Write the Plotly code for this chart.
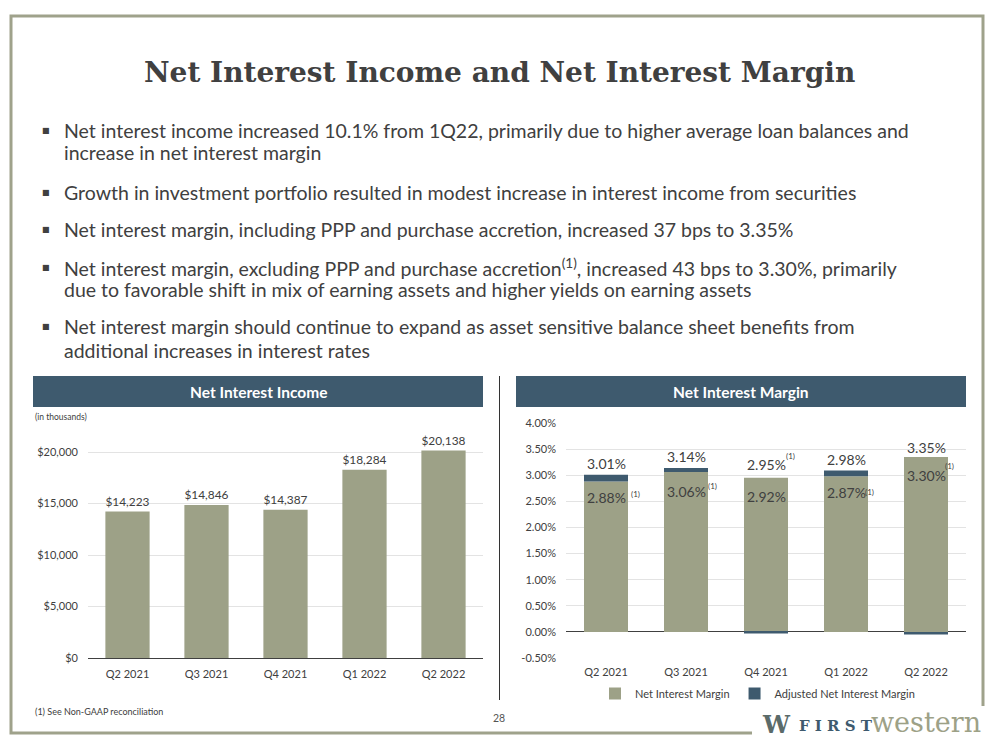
import plotly.graph_objects as go

# ---------------- data ----------------
quarters = ["Q2 2021", "Q3 2021", "Q4 2021", "Q1 2022", "Q2 2022"]
nii_values = [14223, 14846, 14387, 18284, 20138]          # $ thousands
nim_reported = [3.01, 3.14, 2.95, 2.98, 3.35]              # %
nim_adjusted = [2.88, 3.06, 2.92, 2.87, 3.30]              # % (non-GAAP)
nim_bar_base = [2.88, 3.06, 2.95, 2.98, 3.35]              # green segment as drawn
nim_bar_delta = [0.13, 0.08, -0.03, 0.11, -0.05]           # dark segment as drawn
nii_ticks = [0, 5000, 10000, 15000, 20000]
nim_ticks = [-0.5, 0, 0.5, 1.0, 1.5, 2.0, 2.5, 3.0, 3.5, 4.0]

bullets = [
    ["Net interest income increased 10.1% from 1Q22, primarily due to higher average loan balances and",
     "increase in net interest margin"],
    ["Growth in investment portfolio resulted in modest increase in interest income from securities"],
    ["Net interest margin, including PPP and purchase accretion, increased 37 bps to 3.35%"],
    ["Net interest margin, excluding PPP and purchase accretion<sup>(1)</sup>, increased 43 bps to 3.30%, primarily",
     "due to favorable shift in mix of earning assets and higher yields on earning assets"],
    ["Net interest margin should continue to expand as asset sensitive balance sheet benefits from",
     "additional increases in interest rates"],
]

# ---------------- style ----------------
W, H = 999, 750
GREEN = "#9DA187"
SLATE = "#3E5A6E"
TXT = "#404040"
BORDER = "#9FA28B"
FONT = "Lato, 'Open Sans', sans-serif"


def px(x):
    return x / W


def py(y):
    return 1 - y / H


fig = go.Figure()

# left chart: net interest income
fig.add_trace(go.Bar(
    x=quarters, y=nii_values, marker_color=GREEN, width=0.56,
    text=["$" + format(v, ",") for v in nii_values], textposition="outside",
    textfont=dict(size=13.5, color=TXT, family=FONT), cliponaxis=False,
    showlegend=False, xaxis="x", yaxis="y", hoverinfo="x+y",
))

# right chart: net interest margin
fig.add_trace(go.Bar(
    x=quarters, y=nim_bar_base, marker_color=GREEN, width=0.55,
    name="Net Interest Margin", xaxis="x2", yaxis="y2",
))
fig.add_trace(go.Bar(
    x=quarters, y=nim_bar_delta, marker_color=SLATE, width=0.55,
    name="Adjusted Net Interest Margin", xaxis="x2", yaxis="y2",
))

axis_common = dict(showline=False, zeroline=True, zerolinecolor="#404040", zerolinewidth=1,
                   gridcolor="#E3E3E3", gridwidth=1, tickfont=dict(size=11, color=TXT, family=FONT),
                   fixedrange=True, automargin=False)

fig.update_layout(
    template="none",
    width=W, height=H, margin=dict(l=0, r=0, t=0, b=0, pad=0, autoexpand=False),
    paper_bgcolor="white", plot_bgcolor="white",
    barmode="relative", bargap=0.45,
    font=dict(family=FONT, color=TXT),
    xaxis=dict(domain=[px(88), px(483)], anchor="y", showgrid=False, automargin=False,
               tickfont=dict(size=11, color=TXT, family=FONT), ticklabelstandoff=6, ticks="",
               showline=True, linecolor="#404040", linewidth=1, fixedrange=True),
    yaxis=dict(domain=[py(658), py(431.4)], anchor="x", range=[0, 22000], ticks="",
               tickvals=nii_ticks, ticktext=["$" + format(v, ",") for v in nii_ticks],
               ticklabelstandoff=9, **axis_common),
    xaxis2=dict(domain=[px(566), px(966)], anchor="y2", showgrid=False, automargin=False,
                tickfont=dict(size=11, color=TXT, family=FONT), ticklabelstandoff=6, ticks="",
                showline=False, fixedrange=True),
    yaxis2=dict(domain=[py(658), py(423)], anchor="x2", range=[-0.5, 4.0], ticks="",
                tickvals=nim_ticks, ticktext=[f"{v:.2f}%" for v in nim_ticks],
                ticklabelstandoff=9, **axis_common),
    legend=dict(orientation="h", x=px(595), y=py(679), xanchor="left", yanchor="top",
                font=dict(size=11, color=TXT, family=FONT), itemwidth=30,
                traceorder="normal", bgcolor="rgba(0,0,0,0)"),
)

shapes = []
# outer frame
shapes.append(dict(type="rect", xref="paper", yref="paper", x0=px(11), x1=px(983), y0=py(733), y1=py(16),
                   line=dict(color=BORDER, width=3), layer="below"))
# header bars
for x0, x1 in [(33, 483), (516, 966)]:
    shapes.append(dict(type="rect", xref="paper", yref="paper", x0=px(x0), x1=px(x1), y0=py(407), y1=py(376),
                       fillcolor=SLATE, line=dict(width=0), layer="below"))
# divider
shapes.append(dict(type="line", xref="paper", yref="paper", x0=px(499.5), x1=px(499.5), y0=py(700), y1=py(376),
                   line=dict(color="#333333", width=1)))
# logo background over the frame
shapes.append(dict(type="rect", xref="paper", yref="paper", x0=px(752), x1=px(999), y0=py(746), y1=py(706),
                   fillcolor="white", line=dict(width=0), layer="above"))
fig.update_layout(shapes=shapes)

ann = []
# title
ann.append(dict(text="<b>Net Interest Income and Net Interest Margin</b>", x=px(499), y=py(73),
                xref="paper", yref="paper", showarrow=False, xanchor="center", yanchor="middle",
                font=dict(size=28, color=TXT, family="'DejaVu Serif', serif")))

# bullets
line_y = [[131, 153], [192], [229], [267, 289], [327, 350]]
for lines, ys in zip(bullets, line_y):
    ann.append(dict(text="■", x=px(46), y=py(ys[0]), xref="paper", yref="paper", showarrow=False,
                    xanchor="center", yanchor="middle", font=dict(size=8, color=TXT, family="'DejaVu Sans'")))
    for t, yy in zip(lines, ys):
        ann.append(dict(text=t, x=px(62), y=py(yy), xref="paper", yref="paper", showarrow=False,
                        xanchor="left", yanchor="middle", font=dict(size=19.5, color=TXT, family=FONT)))

# header texts
for t, xc in [("<b>Net Interest Income</b>", 258), ("<b>Net Interest Margin</b>", 741)]:
    ann.append(dict(text=t, x=px(xc), y=py(392), xref="paper", yref="paper", showarrow=False,
                    xanchor="center", yanchor="middle", font=dict(size=15.5, color="white", family=FONT)))

ann.append(dict(text="(in thousands)", x=px(33), y=py(417), xref="paper", yref="paper", showarrow=False,
                xanchor="left", yanchor="middle", font=dict(size=8.5, color=TXT, family=FONT)))
ann.append(dict(text="(1) See Non-GAAP reconciliation", x=px(33), y=py(711), xref="paper", yref="paper",
                showarrow=False, xanchor="left", yanchor="middle", font=dict(size=9, color=TXT, family=FONT)))
ann.append(dict(text="28", x=px(499), y=py(718), xref="paper", yref="paper", showarrow=False,
                xanchor="center", yanchor="middle", font=dict(size=10.5, color="#555555", family=FONT)))

# NIM value labels (positions in axis units)
outer_y = [3.23, 3.35, 3.20, 3.31, 3.54]
inner_y = [2.58, 2.68, 2.60, 2.66, 3.00]
for i, q in enumerate(quarters):
    ann.append(dict(text=f"{nim_reported[i]:.2f}%", x=q, y=outer_y[i], xref="x2", yref="y2", showarrow=False,
                    xanchor="center", yanchor="middle", font=dict(size=14, color=TXT, family=FONT)))
    ann.append(dict(text=f"{nim_adjusted[i]:.2f}%", x=q, y=inner_y[i], xref="x2", yref="y2", showarrow=False,
                    xanchor="center", yanchor="middle", font=dict(size=14, color=TXT, family=FONT)))
# footnote markers (1)
sup_pos = [(0, 0.37, 2.64), (1, 0.33, 2.80), (2, 0.30, 3.37), (3, 0.29, 2.68), (4, 0.29, 3.18)]
for i, dx, yv in sup_pos:
    ann.append(dict(text="(1)", x=i + dx, y=yv, xref="x2", yref="y2", showarrow=False,
                    xanchor="center", yanchor="middle", font=dict(size=8, color=TXT, family=FONT)))

# logo
ann.append(dict(text="<b>W</b>", x=px(776), y=py(724), xref="paper", yref="paper", showarrow=False,
                xanchor="center", yanchor="middle",
                font=dict(size=24, color="#5B6B6A", family="'DejaVu Serif', serif")))
ann.append(dict(text="<b>F I R S T</b>", x=px(797), y=py(726), xref="paper", yref="paper", showarrow=False,
                xanchor="left", yanchor="middle",
                font=dict(size=15, color=SLATE, family="'DejaVu Serif', serif")))
ann.append(dict(text="western", x=px(983), y=py(722), xref="paper", yref="paper", showarrow=False,
                xanchor="right", yanchor="middle",
                font=dict(size=27, color=GREEN, family="'DejaVu Serif', serif")))

fig.update_layout(annotations=ann)

fig.write_html(
    "out.html",
    config={"displayModeBar": False, "responsive": False},
    post_script="document.body.style.margin='0';document.body.style.overflow='hidden';"
                "document.documentElement.style.overflow='hidden';",
)
